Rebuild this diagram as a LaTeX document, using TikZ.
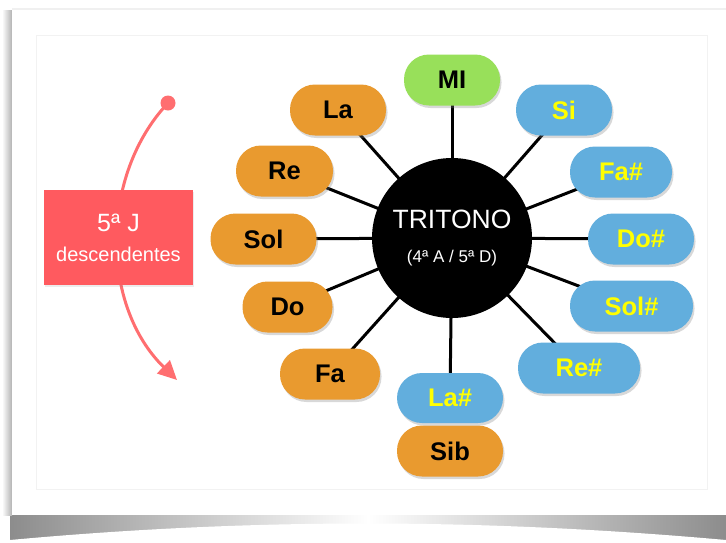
\documentclass[tikz,border=0pt]{standalone}
\usepackage{fontspec}
\setmainfont{Liberation Sans}
\usetikzlibrary{shadows,arrows.meta}
\pgfdeclarelayer{cardlayer}
\pgfdeclarelayer{spokelayer}
\pgfsetlayers{cardlayer,spokelayer,main}
\definecolor{norange}{HTML}{E99A2F}
\definecolor{ngreen}{HTML}{98E05A}
\definecolor{nblue}{HTML}{62AEDD}
\definecolor{nred}{HTML}{FF5A5F}
\definecolor{narc}{HTML}{FF6E70}
\definecolor{nyellow}{HTML}{FFFF00}
\tikzset{
  pill/.style={rounded corners=25pt, minimum width=96pt, minimum height=51pt,
    inner sep=0pt, font=\fontsize{25.5}{26}\selectfont\bfseries,
    drop shadow={opacity=0.3, shadow xshift=1.5pt, shadow yshift=-2.5pt}},
  orangepill/.style={pill, fill=norange, text=black},
  bluepill/.style={pill, fill=nblue, text=nyellow},
  greenpill/.style={pill, fill=ngreen, text=black},
  spoke/.style={line width=3pt, black},
}
\begin{document}
\begin{tikzpicture}[x=1pt,y=-1pt]
\useasboundingbox (0,0) rectangle (726,542);
\begin{pgfonlayer}{cardlayer}
% card and its shadow
\shade[left color=black!45, right color=black!45, middle color=white] (10,512) rectangle (726,540);
\fill[white] (10,540) .. controls (250,518) and (480,518) .. (726,540) -- (726,542) -- (10,542) -- cycle;
\shade[left color=white, right color=black!30] (2,10) rectangle (12,515);
\fill[white] (12,9) rectangle (726,515);
\draw[black!6, line width=2pt] (12,9) -- (726,9);
\draw[black!5, line width=0.8pt] (36,35) rectangle (707,489);
\end{pgfonlayer}
% arc
\node[circle, fill=narc, minimum size=15pt, inner sep=0pt] (dot) at (168,103) {};
\coordinate (arrowtip) at (177,380);
\draw[narc, line width=3pt, -{Triangle[length=19pt,width=18pt]}] (dot.center) .. controls (100,175) and (100,305) .. (arrowtip);
% red box
\node[fill=nred, minimum width=149pt, minimum height=95pt, inner sep=0pt, text=white, align=center,
  font=\fontsize{25}{30}\selectfont,
  drop shadow={opacity=0.15, shadow xshift=1pt, shadow yshift=-2pt}] (box) at (118.5,237.5)
  {5ª J\\{\fontsize{20}{24}\selectfont descendentes}};
% center circle
\node[circle, fill=black, minimum size=160pt, inner sep=0pt, text=white, align=center,
  font=\fontsize{26.5}{34}\selectfont] (tri) at (452,238)
  {TRITONO\\{\fontsize{17}{20}\selectfont (4ª A / 5ª D)}};
% nodes
\node[greenpill] (mi) at (452,80) {MI};
\node[orangepill] (la) at (338,110) {La};
\node[bluepill] (si) at (564,110) {Si};
\node[orangepill, minimum width=97pt] (re) at (284.5,171) {Re};
\node[bluepill, minimum width=102pt] (fas) at (621,172) {Fa\#};
\node[orangepill, minimum width=106pt] (sol) at (263.5,239) {Sol};
\node[bluepill, minimum width=106pt] (dos) at (641,239) {Do\#};
\node[orangepill, minimum width=90pt] (do) at (287.5,307) {Do};
\node[bluepill, minimum width=123pt] (sols) at (631.5,306) {Sol\#};
\node[orangepill, minimum width=100pt] (fa) at (330,374) {Fa};
\node[bluepill, minimum width=122pt] (res) at (579,368) {Re\#};
\node[orangepill, minimum width=106pt] (sib) at (450,451) {Sib};
\node[bluepill, minimum width=106pt, minimum height=50pt] (las) at (450,398) {La\#};
% spokes, behind the nodes
\begin{pgfonlayer}{spokelayer}
\foreach \n in {mi,la,si,re,fas,sol,dos,do,sols,fa,res,las}
  \draw[spoke] (tri.center) -- (\n.center);
\end{pgfonlayer}
\end{tikzpicture}
\end{document}
